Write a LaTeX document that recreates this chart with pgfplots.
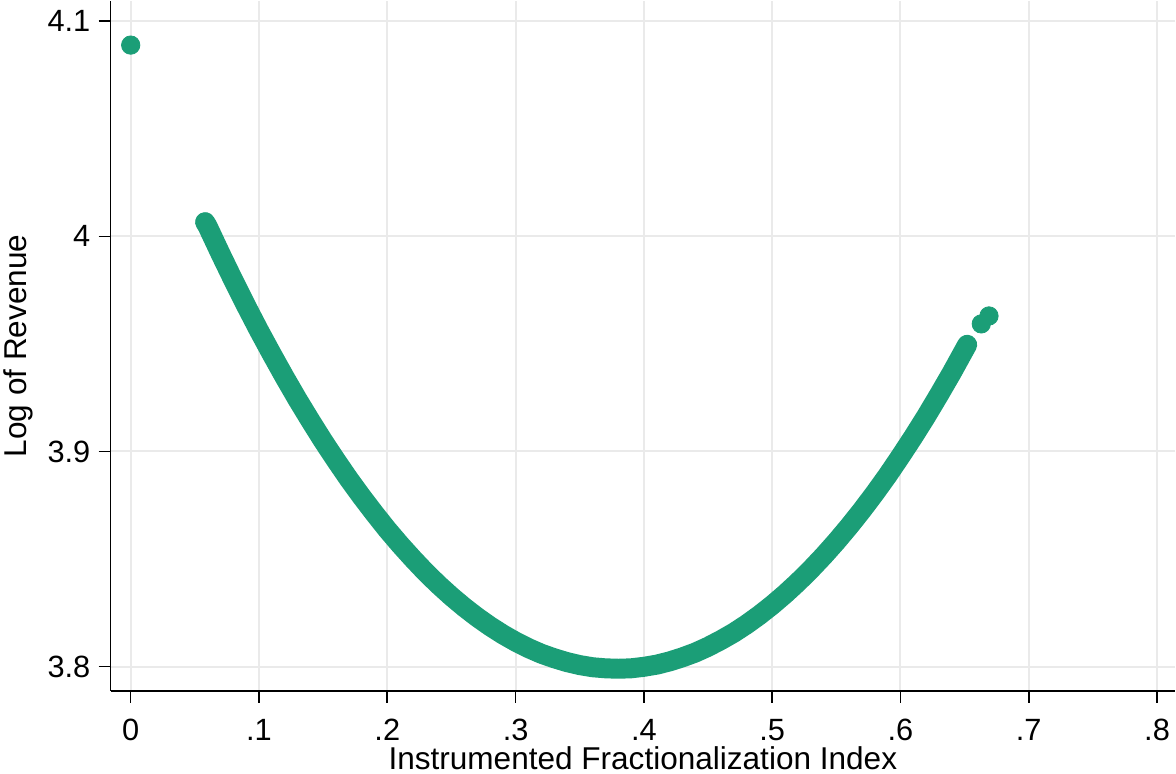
\documentclass[border=0pt]{standalone}
\usepackage{fontspec}
\setmainfont{Liberation Sans}
\usepackage{pgfplots}
\pgfplotsset{compat=1.18}
\definecolor{stgreen}{HTML}{1B9E77}
\definecolor{gridgray}{HTML}{EAEAEA}

\begin{document}
\begin{tikzpicture}
\begin{axis}[
    scale only axis,
    width=533pt, height=345.5pt,
    xmin=-0.0156, xmax=0.814,
    ymin=3.7887, ymax=4.1094,
    axis x line*=bottom, axis y line*=left,
    axis line style={-, line width=0.8pt, black},
    tick align=outside,
    major tick length=6pt,
    tick style={line width=0.8pt, black},
    xtick={0,0.1,0.2,0.3,0.4,0.5,0.6,0.7,0.8},
    xticklabels={0,.1,.2,.3,.4,.5,.6,.7,.8},
    ytick={3.8,3.9,4,4.1},
    yticklabels={3.8,3.9,4,4.1},
    grid=major,
    major grid style={gridgray, line width=1pt},
    /pgf/number format/assume math mode=true,
    ticklabel style={font=\fontsize{15.4}{17}\selectfont, inner sep=0pt},
    xticklabel style={anchor=north, yshift=-8pt},
    yticklabel style={anchor=east, xshift=-4pt},
    label style={font=\fontsize{15.8}{18}\selectfont, inner sep=2pt},
    xlabel={Instrumented Fractionalization Index},
    ylabel={Log of Revenue},
    xlabel style={at={(axis description cs:0.5,-0.1137)}, anchor=base},
    ylabel style={at={(axis description cs:-0.0788,0.5)}, anchor=base},
    clip=false,
]
% fitted values
\addplot[stgreen, line width=10pt, line cap=round, line join=round] coordinates {
(0.058,4.0066)
(0.06,4.0046) (0.07,3.9919) (0.08,3.9796) (0.09,3.9677) (0.10,3.9562)
(0.11,3.9452) (0.12,3.9345) (0.13,3.9242) (0.14,3.9144) (0.15,3.9049)
(0.16,3.8959) (0.17,3.8872) (0.18,3.8790) (0.19,3.8712) (0.20,3.8637)
(0.21,3.8567) (0.22,3.8501) (0.23,3.8438) (0.24,3.8380) (0.25,3.8326)
(0.26,3.8276) (0.27,3.8230) (0.28,3.8188) (0.29,3.8150) (0.30,3.8116)
(0.31,3.8086) (0.32,3.8060) (0.33,3.8039) (0.34,3.8021) (0.35,3.8007)
(0.36,3.7997) (0.37,3.7992) (0.38,3.7990) (0.39,3.7992) (0.40,3.7999)
(0.41,3.8009) (0.42,3.8024) (0.43,3.8043) (0.44,3.8065) (0.45,3.8092)
(0.46,3.8123) (0.47,3.8157) (0.48,3.8196) (0.49,3.8239) (0.50,3.8286)
(0.51,3.8337) (0.52,3.8392) (0.53,3.8451) (0.54,3.8514) (0.55,3.8581)
(0.56,3.8652) (0.57,3.8727) (0.58,3.8806) (0.59,3.8889) (0.60,3.8977)
(0.61,3.9068) (0.62,3.9163) (0.63,3.9263) (0.64,3.9366) (0.652,3.9496)
};
\addplot[only marks, mark=*, mark size=4.6pt, stgreen, mark options={draw=stgreen, fill=stgreen}] coordinates {
(0,4.0889) (0.058,4.0066) (0.663,3.9593) (0.669,3.9630)
};
\end{axis}
\end{tikzpicture}
\end{document}
